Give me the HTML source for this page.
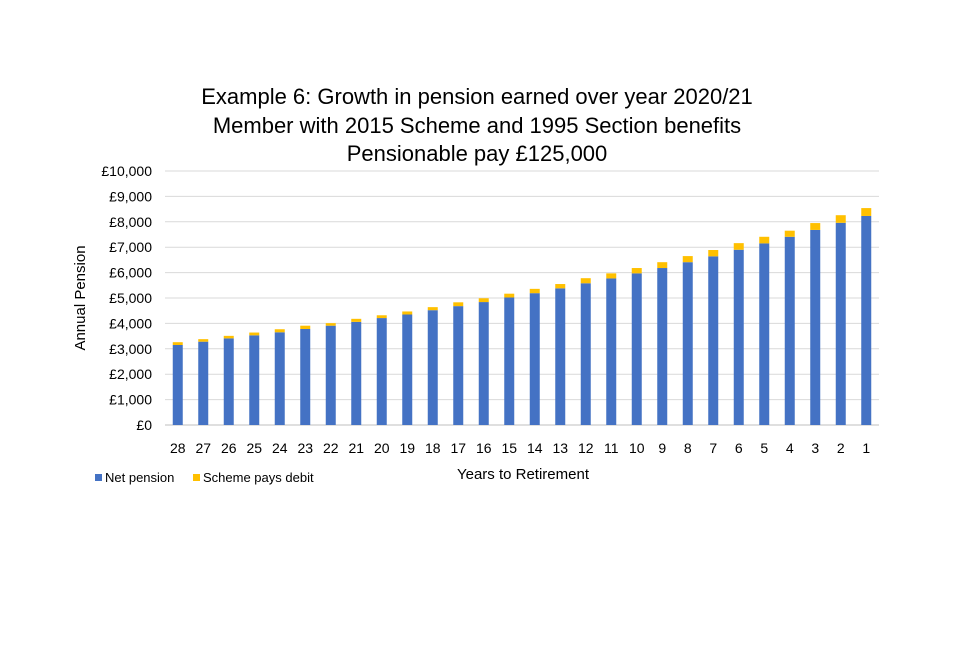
<!DOCTYPE html>
<html><head><meta charset="utf-8"><style>
body{margin:0;background:#fff;font-family:"Liberation Sans",sans-serif;}
svg text{font-family:"Liberation Sans",sans-serif;fill:#000;}
</style></head><body>
<svg width="960" height="640">
<g font-size="22">
<text x="477" y="104" text-anchor="middle">Example 6: Growth in pension earned over year 2020/21</text>
<text x="477" y="133" text-anchor="middle">Member with 2015 Scheme and 1995 Section benefits</text>
<text x="477" y="161" text-anchor="middle">Pensionable pay £125,000</text>
</g>
<g id="grid"></g>
<g id="yticks" font-size="14"></g>
<g id="bars"></g>
<g id="xticks" font-size="14"></g>
<text font-size="15" transform="translate(85,298) rotate(-90)" text-anchor="middle">Annual Pension</text>
<text font-size="15" x="523" y="479" text-anchor="middle">Years to Retirement</text>
<g font-size="13">
<rect x="95" y="474" width="7" height="7" fill="#4472c4"/>
<text x="105" y="482">Net pension</text>
<rect x="193" y="474" width="7" height="7" fill="#ffc000"/>
<text x="203" y="482">Scheme pays debit</text>
</g>
</svg>
<script>
const categories=[28,27,26,25,24,23,22,21,20,19,18,17,16,15,14,13,12,11,10,9,8,7,6,5,4,3,2,1];
const netPension=[3150,3280,3410,3530,3650,3780,3910,4060,4210,4350,4520,4680,4840,5020,5190,5380,5580,5770,5970,6180,6410,6640,6900,7150,7410,7680,7960,8230];
const schemePaysDebit=[110,100,100,110,120,130,100,120,110,120,120,150,150,150,170,170,200,200,210,230,240,250,260,260,240,270,300,310];
const yTicks=[0,1000,2000,3000,4000,5000,6000,7000,8000,9000,10000];
const yLabels=["£0","£1,000","£2,000","£3,000","£4,000","£5,000","£6,000","£7,000","£8,000","£9,000","£10,000"];
const NS="http://www.w3.org/2000/svg";
const x0=165,x1=879,yBase=425,yTop=171,yMax=10000;
const y=v=>yBase-(v/yMax)*(yBase-yTop);
const step=(x1-x0)/categories.length;
const xc=i=>x0+step*(i+0.5);
function mk(t,a,p){const e=document.createElementNS(NS,t);for(const k in a)e.setAttribute(k,a[k]);p.appendChild(e);return e;}
const grid=document.getElementById('grid'),yt=document.getElementById('yticks'),bars=document.getElementById('bars'),xt=document.getElementById('xticks');
yTicks.forEach((v,i)=>{
  const l=mk('line',{x1:x0,x2:x1,y1:y(v),y2:y(v),stroke:v===0?'#bfbfbf':'#d9d9d9','stroke-width':1},grid);
  
  
  const t=mk('text',{x:152,y:y(v)+5,'text-anchor':'end'},yt);t.textContent=yLabels[i];
  
  
});
categories.forEach((c,i)=>{
  const bw=10,cx=xc(i);
  const r=mk('rect',{x:cx-bw/2,y:y(netPension[i]),width:bw,height:yBase-y(netPension[i]),fill:'#4472c4'},bars);
  
  
  const tot=netPension[i]+schemePaysDebit[i];
  const d=mk('rect',{x:cx-bw/2,y:y(tot),width:bw,height:y(netPension[i])-y(tot),fill:'#ffc000'},bars);
  
  
  const t=mk('text',{x:cx,y:453,'text-anchor':'middle'},xt);t.textContent=c;
  
  
});
</script>
</body></html>
